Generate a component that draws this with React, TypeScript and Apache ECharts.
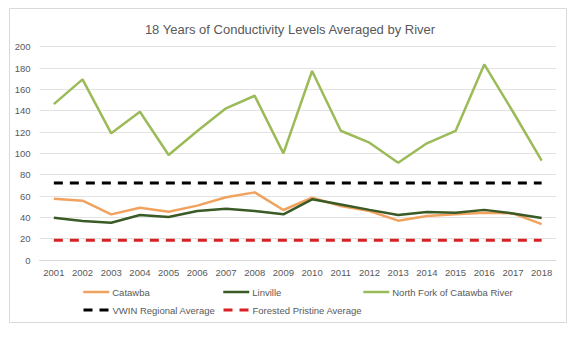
import React, { useEffect, useRef } from "react";
import * as echarts from "echarts";

const years = ["2001","2002","2003","2004","2005","2006","2007","2008","2009","2010","2011","2012","2013","2014","2015","2016","2017","2018"];
const catawba = [57.5, 55.6, 42.8, 49, 45.3, 51, 58.8, 63.4, 46.9, 58.5, 50.6, 46, 36.9, 41.2, 43, 44.4, 43.7, 33.7];
const linville = [39.7, 36.6, 35, 42.2, 40.3, 45.9, 48.1, 46, 42.8, 56.9, 52, 47, 42.2, 45, 44.4, 47, 43.7, 39.4];
const northFork = [146.2, 169.4, 118.8, 139, 98.4, 121, 142.2, 154, 100, 177.2, 121.2, 110, 91.2, 109.4, 121, 183.4, 139, 93.1];
const vwinAvg = [72.3, 72.3, 72.3, 72.3, 72.3, 72.3, 72.3, 72.3, 72.3, 72.3, 72.3, 72.3, 72.3, 72.3, 72.3, 72.3, 72.3, 72.3];
const forestedAvg = [18.5, 18.5, 18.5, 18.5, 18.5, 18.5, 18.5, 18.5, 18.5, 18.5, 18.5, 18.5, 18.5, 18.5, 18.5, 18.5, 18.5, 18.5];

const FONT = "Liberation Sans";
const TXT = "#595959";

export default function App() {
  const ref = useRef<HTMLDivElement>(null);
  useEffect(() => {
    document.body.style.margin = "0";
    const chart = echarts.init(ref.current!, null, { renderer: "svg" });
    const legendBase = {
      itemWidth: 26,
      itemHeight: 10,
      textStyle: { color: TXT, fontSize: 9.5, fontFamily: FONT, padding: [0, 0, 0, -2] },
      padding: 0,
      itemGap: 0,
      itemStyle: { opacity: 0 },
    };
    const mk = (name: string, data: number[], color: string, width: number, dash?: number[]) => ({
      name,
      type: "line",
      data,
      symbol: "none",
      lineStyle: { color, width, type: dash ? dash : "solid", cap: "butt" },
      itemStyle: { color },
    });
    const dashLegend = (color: string) => ({ color, width: 3, type: [9, 7], cap: "butt" });
    chart.setOption({
      animation: false,
      backgroundColor: "#fff",
      textStyle: { fontFamily: FONT },
      title: {
        text: "18 Years of Conductivity Levels Averaged by River",
        left: "center",
        top: 18,
        textStyle: { color: TXT, fontSize: 13, fontWeight: "normal", fontFamily: FONT },
      },
      graphic: [
        {
          type: "rect",
          shape: { x: 9.5, y: 8.5, width: 557, height: 314 },
          style: { fill: "none", stroke: "#D9D9D9", lineWidth: 1 },
          silent: true,
        },
      ],
      legend: [
        { ...legendBase, data: ["Catawba"], left: 82, top: 287, lineStyle: { width: 2.5 } },
        { ...legendBase, data: ["Linville"], left: 222, top: 287, lineStyle: { width: 2.5 } },
        { ...legendBase, data: ["North Fork of Catawba River"], left: 362, top: 287, lineStyle: { width: 2.5 } },
        { ...legendBase, data: ["VWIN Regional Average"], left: 82, top: 305, lineStyle: dashLegend("#000000") },
        { ...legendBase, data: ["Forested Pristine Average"], left: 222, top: 305, lineStyle: dashLegend("#DB1F26") },
      ],
      grid: { left: 39.5, right: 24, top: 46.7, bottom: 82, containLabel: false },
      xAxis: {
        type: "category",
        data: years,
        boundaryGap: true,
        axisTick: { show: false },
        axisLine: { lineStyle: { color: "#D9D9D9", width: 1 } },
        axisLabel: { color: TXT, fontSize: 9.5, fontFamily: FONT, margin: 7 },
      },
      yAxis: {
        type: "value",
        min: 0,
        max: 200,
        interval: 20,
        axisLine: { show: false },
        axisTick: { show: false },
        splitLine: { lineStyle: { color: "#E3E3E3", width: 1 } },
        axisLabel: { color: TXT, fontSize: 9.5, fontFamily: FONT, margin: 9 },
      },
      series: [
        mk("Catawba", catawba, "#F0A25E", 2.5),
        mk("Linville", linville, "#3A5A26", 2.5),
        mk("North Fork of Catawba River", northFork, "#9BBB59", 2.5),
        mk("VWIN Regional Average", vwinAvg, "#000000", 3, [9, 7]),
        mk("Forested Pristine Average", forestedAvg, "#DB1F26", 3, [9, 7]),
      ],
    });
    return () => chart.dispose();
  }, []);
  return (
    <div
      ref={ref}
      style={{ position: "absolute", left: 0, top: 0, width: 580, height: 342 }}
    />
  );
}
